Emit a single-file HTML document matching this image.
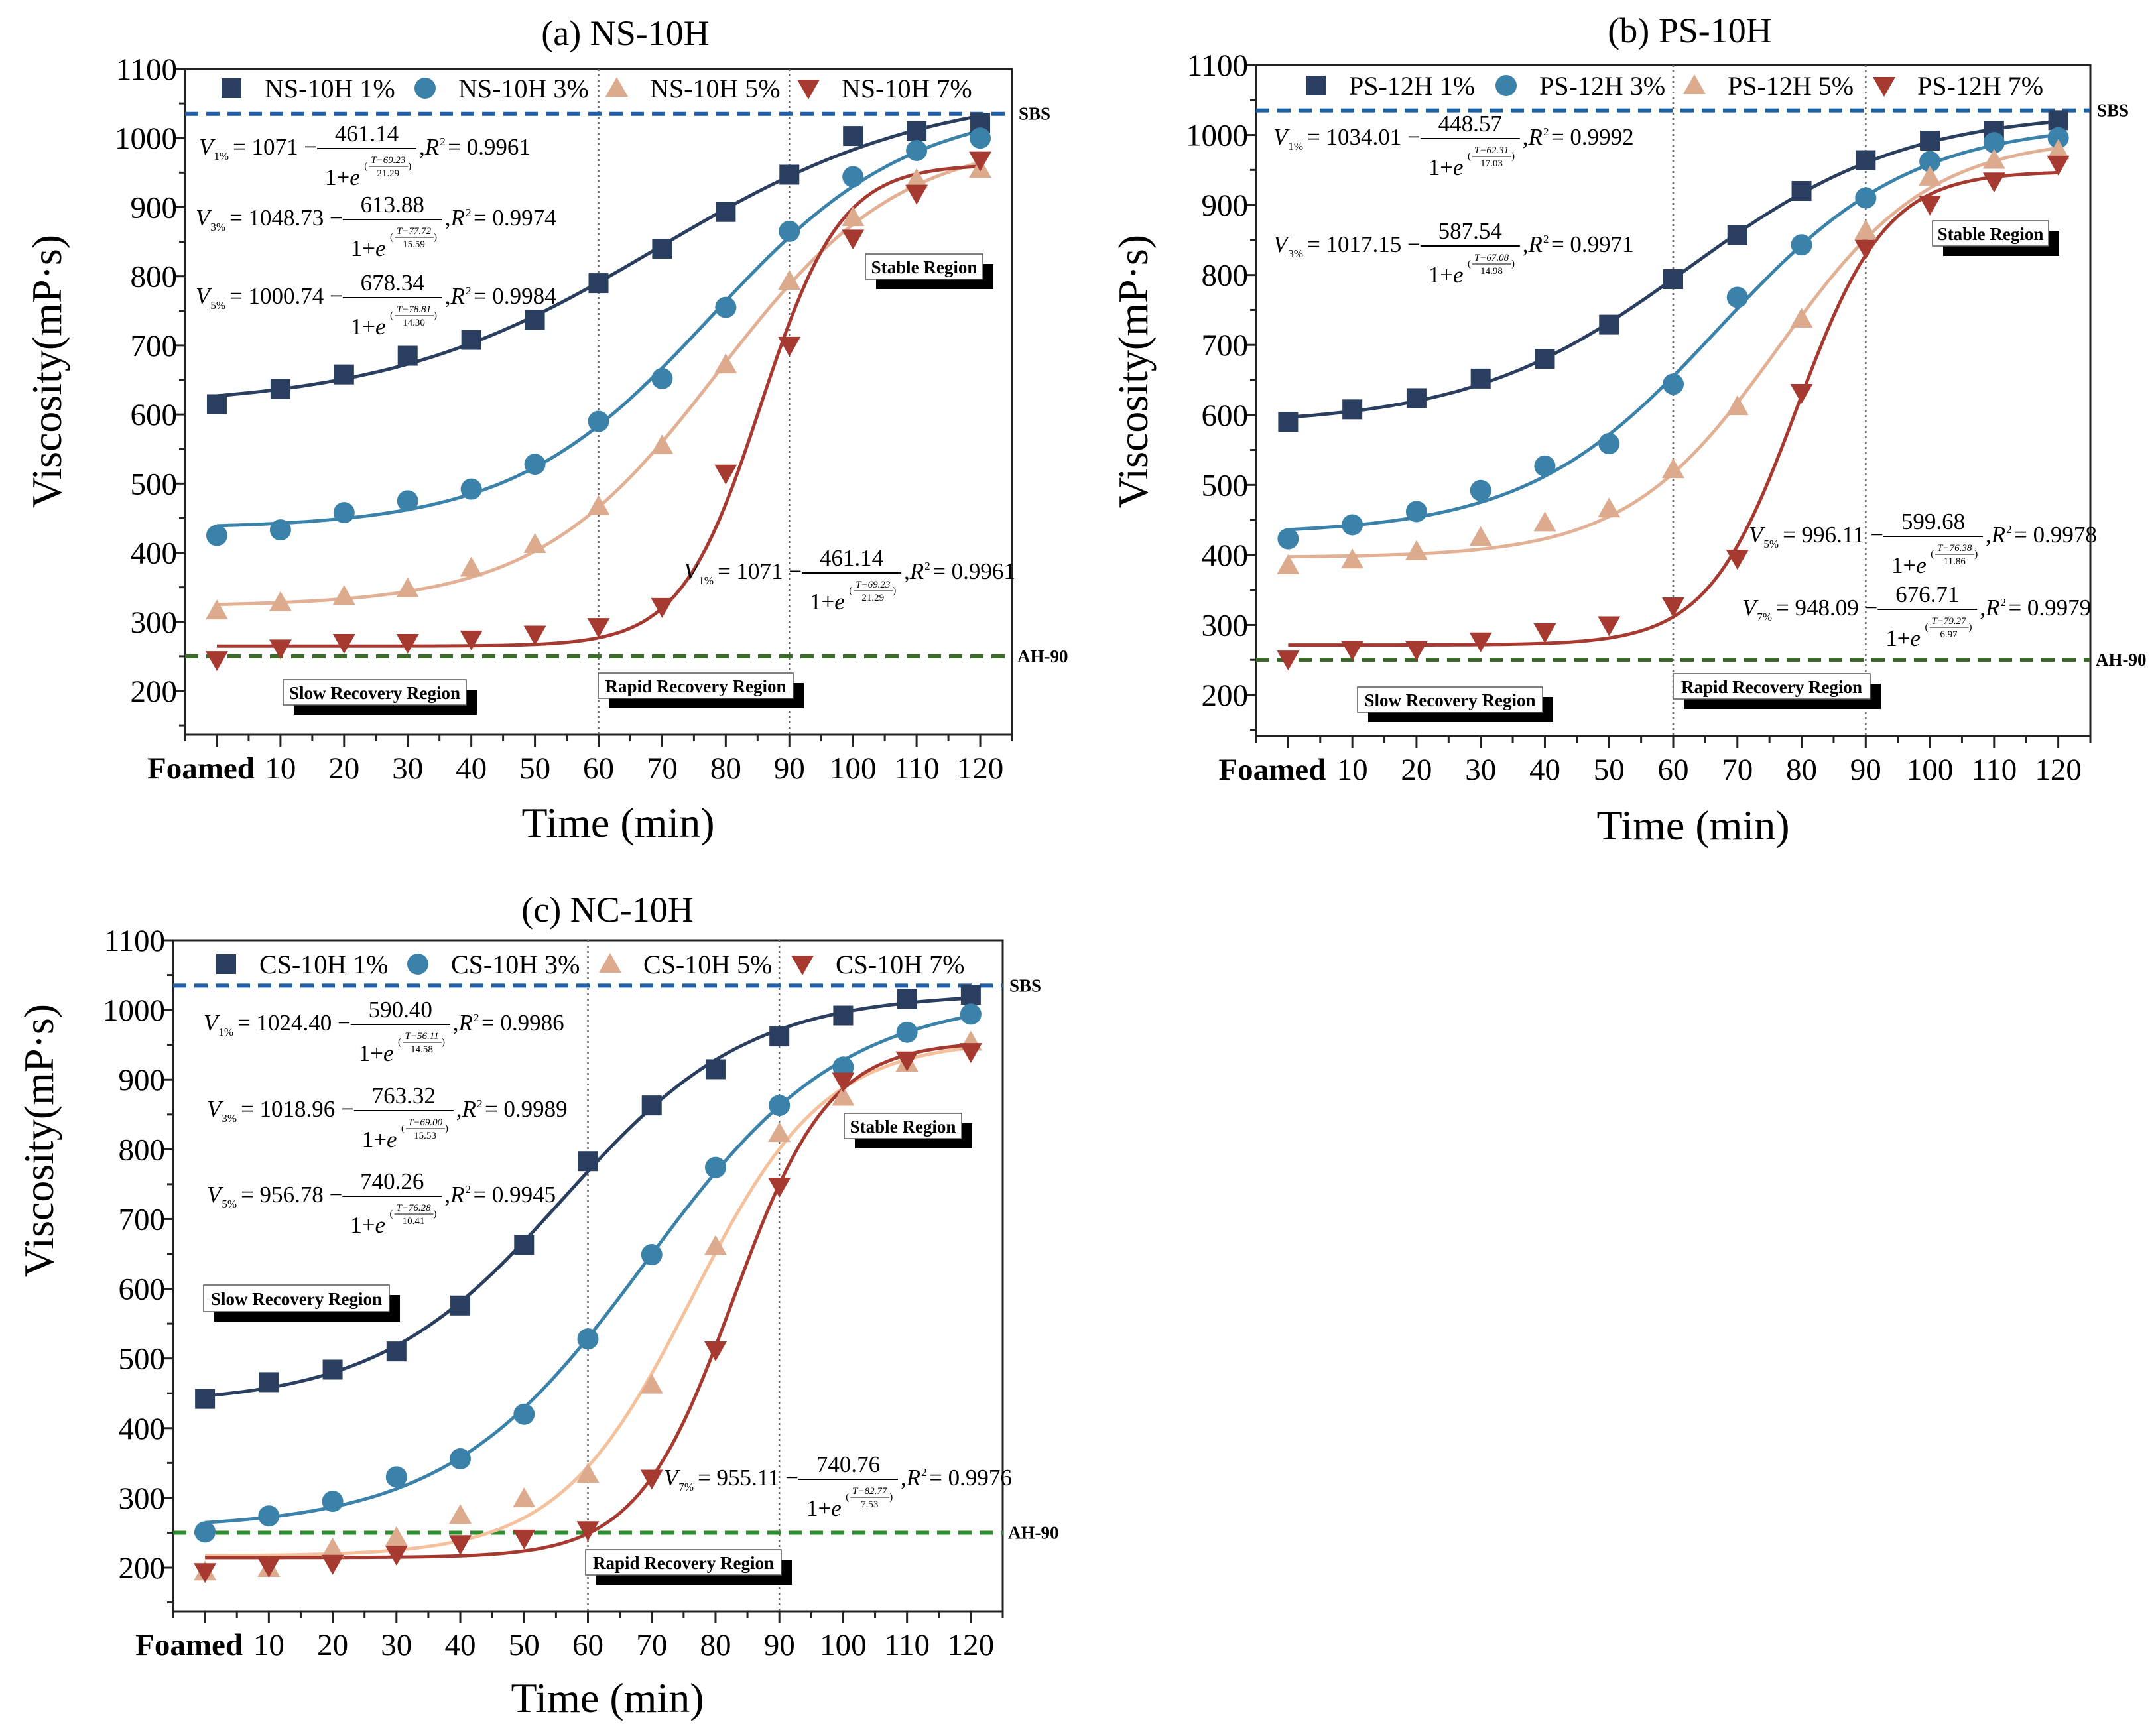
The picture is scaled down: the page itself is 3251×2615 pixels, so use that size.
<!DOCTYPE html>
<html><head><meta charset="utf-8"><style>
html,body{margin:0;padding:0;background:#fff}
svg{display:block;font-family:"Liberation Serif",serif}
</style></head><body>
<svg id="fig" width="3251" height="2615" viewBox="0 0 3251 2615" xmlns="http://www.w3.org/2000/svg"></svg>
<script>
// ---- data ----
const times = [0,10,20,30,40,50,60,70,80,90,100,110,120];
const xTickLabels = ['Foamed','10','20','30','40','50','60','70','80','90','100','110','120'];
const yTicks = [200,300,400,500,600,700,800,900,1000,1100];
const sbsValue = 1035;
const ah90Value = 250;
const regionBounds = [60,90];

const aTitle = '(a) NS-10H';
const aNames = ['NS-10H 1%','NS-10H 3%','NS-10H 5%','NS-10H 7%'];
const a1 = [615,637,658,685,708,737,790,840,893,947,1003,1010,1022];
const a3 = [425,433,458,475,492,528,590,652,755,865,944,982,1000];
const a5 = [316,328,337,348,378,412,467,555,672,793,885,940,955];
const a7 = [245,262,270,270,275,282,293,322,515,700,855,920,968];
const aFit1 = [1071,461.14,69.23,21.29];
const aFit3 = [1048.73,613.88,77.72,15.59];
const aFit5 = [1000.74,678.34,78.81,14.30];
const aFit7 = [962,697,85.5,6.3];

const bTitle = '(b) PS-10H';
const bNames = ['PS-12H 1%','PS-12H 3%','PS-12H 5%','PS-12H 7%'];
const b1 = [590,608,624,652,680,729,794,857,920,964,992,1006,1021];
const b3 = [423,443,462,492,527,559,644,768,843,910,962,989,996];
const b5 = [385,393,405,425,446,466,522,612,737,863,940,964,978];
const b7 = [251,265,265,277,290,300,327,395,632,838,901,934,958];
const bFit1 = [1034.01,448.57,62.31,17.03];
const bFit3 = [1017.15,587.54,67.08,14.98];
const bFit5 = [996.11,599.68,76.38,11.86];
const bFit7 = [948.09,676.71,79.27,6.97];

const cTitle = '(c) NC-10H';
const cNames = ['CS-10H 1%','CS-10H 3%','CS-10H 5%','CS-10H 7%'];
const c1 = [442,466,484,510,576,663,783,863,915,962,992,1016,1022];
const c3 = [251,274,295,330,356,420,528,649,774,863,918,968,994];
const c5 = [194,199,227,243,275,299,334,462,661,823,875,924,954];
const c7 = [194,202,206,219,234,242,254,328,512,747,898,928,940];
const cFit1 = [1024.40,590.40,56.11,14.58];
const cFit3 = [1018.96,763.32,69.00,15.53];
const cFit5 = [956.78,740.26,76.28,10.41];
const cFit7 = [955.11,740.76,82.77,7.53];

const NS='http://www.w3.org/2000/svg';
const svg=document.getElementById('fig');
function el(tag,attrs,parent,text){const e=document.createElementNS(NS,tag);for(const k in attrs)e.setAttribute(k,attrs[k]);if(text!==undefined)e.textContent=text;(parent||svg).appendChild(e);return e;}

const markerCol=['#2a3e5f','#3b82aa','#dcaa8d','#a63a30'];
const lineCol=['#2a3e5f','#3b82aa','#e2b195','#a63a30'];

function drawMarker(g,k,x,y){
  let m;
  if(k===0) m=el('rect',{x:x-15,y:y-15,width:30,height:30,fill:markerCol[0]},g);
  else if(k===1) m=el('circle',{cx:x,cy:y,r:16,fill:markerCol[1]},g);
  else if(k===2) m=el('polygon',{points:`${x},${y-17} ${x+17},${y+13} ${x-17},${y+13}`,fill:markerCol[2]},g);
  else m=el('polygon',{points:`${x},${y+17} ${x+17},${y-13} ${x-17},${y-13}`,fill:markerCol[3]},g);
  return m;
}

function equation(g,x,b,sub,A,B,num,den,r2){
  const eg=el('g',{},g);
  
  
  let cx=x;
  const V=el('text',{x:cx,y:b,'font-size':35,'font-style':'italic'},eg,'V');cx+=V.getComputedTextLength()+1;
  const s=el('text',{x:cx,y:b+8,'font-size':17},eg,sub);cx+=s.getComputedTextLength()+6;
  const m=el('text',{x:cx,y:b,'font-size':35},eg,'= '+A+' \u2212 ');cx+=m.getComputedTextLength();
  const fw=150;
  el('text',{x:cx+fw/2,y:b-20,'font-size':35,'text-anchor':'middle'},eg,B);
  el('line',{x1:cx,x2:cx+fw,y1:b-9,y2:b-9,stroke:'#000','stroke-width':2},eg);
  const d=el('text',{x:cx+12,y:b+46,'font-size':35},eg,'1+');
  const dw=d.getComputedTextLength();
  el('text',{x:cx+12+dw,y:b+46,'font-size':35,'font-style':'italic'},eg,'e');
  const ex=cx+12+dw+22;
  el('text',{x:ex,y:b+22,'font-size':15},eg,'(');
  el('text',{x:ex+36,y:b+13,'font-size':15,'font-style':'italic','text-anchor':'middle'},eg,'T\u2212'+num);
  el('line',{x1:ex+7,x2:ex+66,y1:b+18,y2:b+18,stroke:'#000','stroke-width':1},eg);
  el('text',{x:ex+36,y:b+33,'font-size':15,'text-anchor':'middle'},eg,den);
  el('text',{x:ex+66,y:b+22,'font-size':15},eg,')');
  cx+=fw+4;
  const r=el('text',{x:cx,y:b,'font-size':35},eg,', ');cx+=r.getComputedTextLength();
  const R=el('text',{x:cx,y:b,'font-size':35,'font-style':'italic'},eg,'R');cx+=R.getComputedTextLength()+1;
  el('text',{x:cx,y:b-14,'font-size':17},eg,'2');cx+=12;
  el('text',{x:cx,y:b,'font-size':35},eg,'= '+r2);
}

function regionBox(g,name,text,x,y,w,h){
  const rg=el('g',{},g);
  
  
  el('rect',{x:x+16,y:y+15,width:w,height:h,fill:'#000'},rg);
  el('rect',{x:x,y:y,width:w,height:h,fill:'#fff',stroke:'#555','stroke-width':1.5},rg);
  el('text',{x:x+w/2,y:y+h/2+10,'font-size':27,'font-weight':'bold','text-anchor':'middle'},rg,text);
}

function panel(P){
  const g=el('g',{},svg);
  
  
  const X=t=>P.L+(t+5)/130*(P.R-P.L);
  const Y=v=>P.y200+(200-v)*P.pu;
  const top=Y(1100), bot=P.B;
  const tt=el('text',{x:P.tx,y:P.ty,'font-size':54,'text-anchor':'middle'},g,P.title);
  
  
  const fr=el('rect',{x:P.L,y:top,width:P.R-P.L,height:bot-top,fill:'none',stroke:'#222','stroke-width':3},g);
  
  
  for(let v=150;v<=1100;v+=50){
    const major=v%100===0;
    el('line',{x1:P.L,x2:P.L-(major?16:9),y1:Y(v),y2:Y(v),stroke:'#222','stroke-width':3},g);
  }
  yTicks.forEach(v=>{
    const t=el('text',{x:P.L-12,y:Y(v)+16,'font-size':47,'text-anchor':'end'},g,String(v));
    
    
  });
  for(let t=-5;t<=125;t+=5){
    const major=t%10===0;
    el('line',{x1:X(t),x2:X(t),y1:bot,y2:bot+(major?18:10),stroke:'#222','stroke-width':3},g);
  }
  times.forEach((t,i)=>{
    const lab=xTickLabels[i];
    const tx=el('text',{x:i===0?X(t)-24:X(t),y:bot+66,'font-size':47,'text-anchor':'middle','font-weight':i===0?'bold':'normal'},g,lab);
    
    
  });
  const xl=el('text',{x:P.xlx,y:P.xly,'font-size':64,'text-anchor':'middle'},g,'Time (min)');
  
  
  const yl=el('text',{x:P.ylx,y:P.yly,'font-size':64,'text-anchor':'middle',transform:`rotate(-90 ${P.ylx} ${P.yly})`},g,'Viscosity(mP\u00b7s)');
  
  
  regionBounds.forEach(t=>{
    const l=el('line',{x1:X(t),x2:X(t),y1:top,y2:bot,stroke:'#666','stroke-width':2.5,'stroke-dasharray':'3 5'},g);
    
    
  });
  const sb=el('line',{x1:P.L,x2:P.R,y1:Y(sbsValue),y2:Y(sbsValue),stroke:'#1f5fa6','stroke-width':6,'stroke-dasharray':'20 12'},g);
  
  
  const ah=el('line',{x1:P.L,x2:P.R,y1:Y(ah90Value),y2:Y(ah90Value),stroke:P.green,'stroke-width':6,'stroke-dasharray':'20 12'},g);
  
  
  const sl=el('text',{x:P.R+10,y:Y(sbsValue)+9,'font-size':27,'font-weight':'bold'},g,'SBS');
  
  
  const al=el('text',{x:P.R+8,y:Y(ah90Value)+9,'font-size':27,'font-weight':'bold'},g,'AH-90');
  
  
  P.boxes.forEach(b=>regionBox(g,b[0],b[1],b[2],b[3],b[4],b[5]));
  P.series.forEach((s,k)=>{
    const f=P.fits[k];
    let d='';
    for(let t=0;t<=120;t+=1){
      const v=f[0]-f[1]/(1+Math.exp((t-f[2])/f[3]));
      d+=(t?'L':'M')+X(t).toFixed(1)+' '+Y(v).toFixed(1);
    }
    const c=el('path',{d:d,fill:'none',stroke:P.lineCols[k],'stroke-width':5},g);
    
    
  });
  P.series.forEach((s,k)=>{
    s.forEach((v,i)=>{
      const m=drawMarker(g,k,X(times[i]),Y(v));
      
      
    });
  });
  P.names.forEach((n,k)=>{
    const lg=el('g',{},g);
    
    
    drawMarker(lg,k,P.legX[k],P.legY);
    el('text',{x:P.legX[k]+50,y:P.legY+14,'font-size':40},lg,n);
  });
  P.eqs.forEach(e=>equation(g,...e));
}

panel({id:'panel-a',title:aTitle,names:aNames,series:[a1,a3,a5,a7],fits:[aFit1,aFit3,aFit5,aFit7],
  lineCols:lineCol,green:'#3c6b2c',
  L:279,R:1526,y200:1042,pu:(1042-104)/900,B:1108,tx:943,ty:68,xlx:932,xly:1262,ylx:92,yly:560,
  legX:[349,641,930,1219],legY:133,
  boxes:[['slow-recovery-label','Slow Recovery Region',427,1025,276,38],['rapid-recovery-label','Rapid Recovery Region',902,1015,294,38],['stable-region-label','Stable Region',1305,383,177,38]],
  eqs:[[300,233,'1%','1071','461.14','69.23','21.29','0.9961'],[295,340,'3%','1048.73','613.88','77.72','15.59','0.9974'],[295,458,'5%','1000.74','678.34','78.81','14.30','0.9984'],[1031,873,'1%','1071','461.14','69.23','21.29','0.9961']]});

panel({id:'panel-b',title:bTitle,names:bNames,series:[b1,b3,b5,b7],fits:[bFit1,bFit3,bFit5,bFit7],
  lineCols:lineCol,green:'#3c6b2c',
  L:1894,R:3152,y200:1048,pu:(1048-98)/900,B:1110,tx:2548,ty:64,xlx:2553,xly:1266,ylx:1730,yly:560,
  legX:[1984,2271,2555,2841],legY:129,
  boxes:[['slow-recovery-label','Slow Recovery Region',2047,1036,279,38],['rapid-recovery-label','Rapid Recovery Region',2523,1016,297,38],['stable-region-label','Stable Region',2914,333,175,38]],
  eqs:[[1920,218,'1%','1034.01','448.57','62.31','17.03','0.9992'],[1920,380,'3%','1017.15','587.54','67.08','14.98','0.9971'],[2637,818,'5%','996.11','599.68','76.38','11.86','0.9978'],[2627,928,'7%','948.09','676.71','79.27','6.97','0.9979']]});

panel({id:'panel-c',title:cTitle,names:cNames,series:[c1,c3,c5,c7],fits:[cFit1,cFit3,cFit5,cFit7],
  lineCols:['#2a3e5f','#3b82aa','#f5c09c','#a63a30'],green:'#2e8a2e',
  L:261,R:1512,y200:2364,pu:(2364-1418)/900,B:2430,tx:916,ty:1390,xlx:916,xly:2582,ylx:80,yly:1720,
  legX:[341,630,920,1210],legY:1454,
  boxes:[['slow-recovery-label','Slow Recovery Region',307,1938,280,40],['rapid-recovery-label','Rapid Recovery Region',883,2337,295,38],['stable-region-label','Stable Region',1273,1679,177,38]],
  eqs:[[307,1554,'1%','1024.40','590.40','56.11','14.58','0.9986'],[312,1684,'3%','1018.96','763.32','69.00','15.53','0.9989'],[312,1813,'5%','956.78','740.26','76.28','10.41','0.9945'],[1001,2240,'7%','955.11','740.76','82.77','7.53','0.9976']]});
</script>
</body></html>
